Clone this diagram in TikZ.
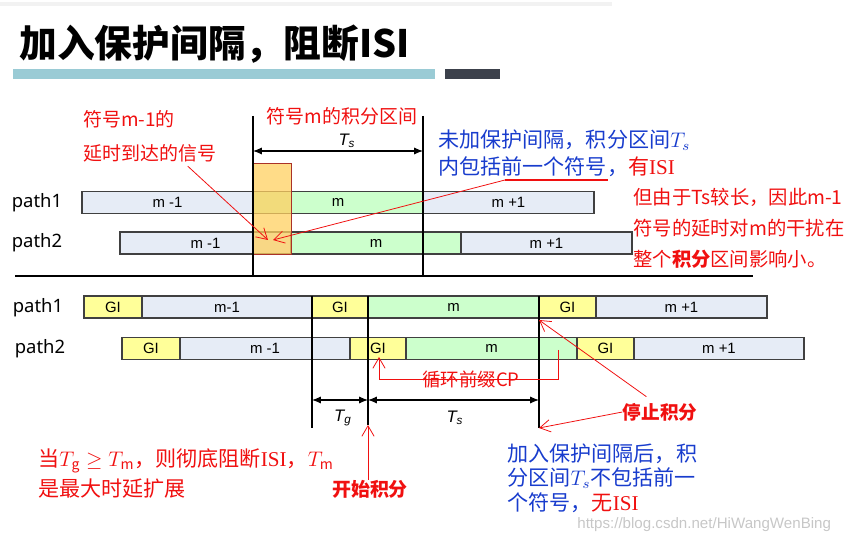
\documentclass[tikz,border=0pt]{standalone}
\usepackage{fontspec}
\setmainfont{Noto Sans CJK SC}
\newfontfamily\arialf{Liberation Sans}
\newfontfamily\timesf{Liberation Serif}
\newfontfamily\labelf{Noto Sans}
\usetikzlibrary{arrows.meta,positioning}

\definecolor{redtxt}{RGB}{240,16,16}
\definecolor{bluetxt}{RGB}{24,60,205}
\definecolor{segblue}{RGB}{230,236,246}
\definecolor{seggreen}{RGB}{204,255,204}
\definecolor{seggi}{RGB}{255,255,153}
\definecolor{barteal}{RGB}{154,203,213}
\definecolor{bardark}{RGB}{60,65,75}
\definecolor{delayfill}{RGB}{255,208,96}
\definecolor{delayline}{RGB}{170,50,40}

\begin{document}
\begin{tikzpicture}[
        x=0.02cm, y=-0.02cm,
        seg/.style={draw=black!75, line width=0.6pt, anchor=west, minimum height=0.44cm, inner sep=0pt, outer sep=0pt, font=\arialf\fontsize{8.5}{10}\selectfont},
        pathlbl/.style={inner sep=0pt, font=\labelf\fontsize{10.5}{12}\selectfont},
        redtext/.style={inner sep=0pt, anchor=west, text=redtxt, font=\fontsize{11}{13}\selectfont},
        bluetext/.style={inner sep=0pt, anchor=west, text=bluetxt, font=\fontsize{12}{14}\selectfont},
        dimlbl/.style={inner sep=0pt, font=\arialf\itshape\fontsize{9.5}{11}\selectfont},
        guide/.style={line width=0.9pt},
        dimarrow/.style={line width=0.6pt, {Latex[length=5pt,width=4pt]}-{Latex[length=5pt,width=4pt]}},
        redarrow/.style={draw=redtxt, line width=0.45pt, -{Straight Barb[length=6pt,width=7pt]}}
    ]
        \useasboundingbox (0,0) rectangle (853,543);

        % title
        \fill[black!5] (0,2) rectangle (612,6);
        \node[anchor=west, inner sep=0pt, font=\bfseries\fontsize{21.5}{24}\selectfont] (title) at (19,44) {加入保护间隔，阻断ISI};
        \fill[barteal] (13,69) rectangle (435,79);
        \fill[bardark] (445,69) rectangle (500,79);

        % without guard interval
        \node[pathlbl] (top1) at (37,203) {path1};
        \node[pathlbl] (top2) at (37,243) {path2};
        \foreach \nm/\xa/\xb/\fc/\tx in {ta1/82/253/segblue/m -1, ta2/253/423/seggreen/m, ta3/423/594/segblue/m +1}
            \node[seg, fill=\fc, minimum width={(\xb-\xa)*0.02cm}] (\nm) at (\xa,202.5) {\tx};
        \foreach \nm/\xa/\xb/\fc/\tx in {tb1/120/291/segblue/m -1, tb2/291/461/seggreen/m, tb3/461/632/segblue/m +1}
            \node[seg, fill=\fc, minimum width={(\xb-\xa)*0.02cm}] (\nm) at (\xa,243) {\tx};
        \node[draw=delayline, fill=delayfill, fill opacity=0.75, line width=0.8pt, anchor=north west, inner sep=0pt, minimum width=0.76cm, minimum height=1.82cm] (delay) at (253,163) {};

        \draw[guide] (253,116) -- (253,276);
        \draw[guide] (423,116) -- (423,276);
        \draw[dimarrow] (253,151) -- (423,151);
        \node[dimlbl] (tstop) at (347,141) {T\textsubscript{s}};

        \node[redtext, font=\fontsize{10.8}{13}\selectfont] (sig1) at (83,119) {符号m-1的};
        \node[redtext, font=\fontsize{10.8}{13}\selectfont] (sig2) at (83,153) {延时到达的信号};
        \node[redtext, anchor=center, font=\fontsize{10.8}{13}\selectfont] (win) at (342,116) {符号m的积分区间};

        \node[bluetext] (nogi1) at (438,140) {未加保护间隔，积分区间$T_s$};
        \node[bluetext] (nogi2) at (438,167) {内包括前一个符号，{\color{redtxt}有{\timesf ISI}}};
        \node[redtext] (isi1) at (633,197) {但由于Ts较长，因此m-1};
        \node[redtext] (isi2) at (633,228) {符号的延时对m的干扰在};
        \node[redtext] (isi3) at (633,259) {整个\textbf{积分}区间影响小。};

        \coordinate (ula) at (505,180);
        \coordinate (ulb) at (608,180);
        \coordinate (isitip) at (273,240);
        \coordinate (delaytip) at (268,240);
        \draw[redtxt, line width=1.3pt] (ula) -- (ulb);
        \draw[redarrow] (ula) -- (isitip);
        \draw[redarrow] ([shift={(38,4)}]sig2.south) -- (delaytip);

        \draw[line width=1.4pt] (15,276) -- (753,276);

        % with guard interval
        \node[pathlbl] (bot1) at (38,308) {path1};
        \node[pathlbl] (bot2) at (40,349) {path2};
        \foreach \nm/\xa/\xb/\fc/\tx in {ba1/84/142/seggi/GI, ba2/142/312/segblue/m-1, ba3/312/368/seggi/GI, ba4/368/539/seggreen/m, ba5/539/596/seggi/GI, ba6/596/767/segblue/m +1}
            \node[seg, fill=\fc, minimum width={(\xb-\xa)*0.02cm}] (\nm) at (\xa,307) {\tx};
        \foreach \nm/\xa/\xb/\fc/\tx in {bb1/122/180/seggi/GI, bb2/180/350/segblue/m -1, bb3/350/406/seggi/GI, bb4/406/577/seggreen/m, bb5/577/634/seggi/GI, bb6/634/804/segblue/m +1}
            \node[seg, fill=\fc, minimum width={(\xb-\xa)*0.02cm}] (\nm) at (\xa,348.5) {\tx};

        \draw[guide] (312,296) -- (312,428);
        \draw[guide] (368,296) -- (368,425);
        \draw[guide] (539,296) -- (539,428);
        \draw[dimarrow] (312,400) -- (368,400);
        \draw[dimarrow] (368,400) -- (539,400);
        \node[dimlbl] (tg) at (343,418) {T\textsubscript{g}};
        \node[dimlbl] (tsbot) at (455,418) {T\textsubscript{s}};

        \coordinate (cpa) at (558,350);
        \coordinate (cpb) at (379,379);
        \coordinate (cpc) at (379,357);
        \draw[redarrow] (cpa) |- (cpb) -- (cpc);
        \node[redtext, anchor=center, font=\fontsize{10.5}{12}\selectfont] (cp) at (471,380) {循环前缀CP};

        \node[redtext, anchor=center, font=\bfseries\fontsize{10.6}{12}\selectfont] (stop) at (660,412) {停止积分};
        \node[redtext, anchor=center, font=\bfseries\fontsize{10.8}{12}\selectfont] (start) at (370,489) {开始积分};
        \coordinate (stopa) at (539,320);
        \coordinate (stopb) at (539,428);
        \coordinate (starta) at (368,425);
        \draw[redarrow] ([shift={(24,-6)}]stop.north west) -- (stopa);
        \draw[redarrow] (stop.west) -- (stopb);
        \draw[redarrow] (start.north -| starta) -- (starta);

        \node[redtext, font=\fontsize{12}{14}\selectfont] (tm1) at (38,461) {当$T_{\mathrm{g}}\geq T_{\mathrm{m}}$，则彻底阻断{\timesf ISI}，$T_{\mathrm{m}}$};
        \node[redtext, font=\fontsize{12}{14}\selectfont] (tm2) at (38,489) {是最大时延扩展};

        \node[bluetext] (gi1) at (507,454) {加入保护间隔后，积};
        \node[bluetext] (gi2) at (507,478) {分区间$T_s$不包括前一};
        \node[bluetext] (gi3) at (507,503) {个符号，{\color{redtxt}无{\timesf ISI}}};

        \node[anchor=west, inner sep=0pt, text=black!22, font=\arialf\fontsize{8.6}{10}\selectfont] (wm) at (577,525) {https://blog.csdn.net/HiWangWenBing};

    \end{tikzpicture}
\end{document}
